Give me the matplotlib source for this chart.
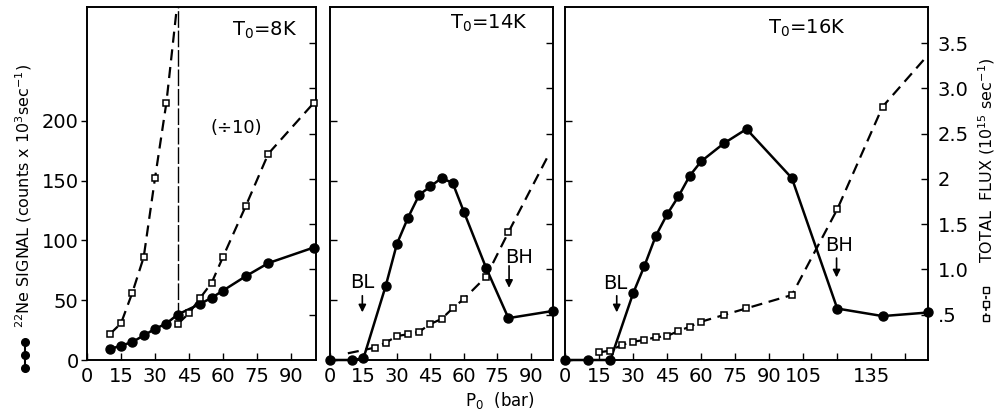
import matplotlib
matplotlib.use("Agg")
import matplotlib.pyplot as plt
from matplotlib.lines import Line2D

plt.rcParams['font.family'] = ['DejaVu Sans']
plt.rcParams['mathtext.default'] = 'regular'

# 22Ne signal (counts x 10^3 / s), filled circles, solid line
p_8k = [10, 15, 20, 25, 30, 35, 40, 50, 55, 60, 70, 80, 100]
ne_8k = [9, 12, 15, 20.5, 26, 30.5, 38, 47, 52, 58, 70, 81, 94]

p_14k = [0, 10, 15, 25, 30, 35, 40, 45, 50, 55, 60, 70, 80, 100]
ne_14k = [0, 0, 1.4, 62, 97, 119, 138, 145, 152, 148, 124, 77, 35, 41]

p_16k = [0, 10, 20, 30, 35, 40, 45, 50, 55, 60, 70, 80, 100, 120, 140, 160]
ne_16k = [0, 0, 0, 55.6, 78.6, 103.6, 121.7, 136.7, 154, 166, 181, 193, 152, 43, 36.7, 39.7]

# total flux (10^15 / s), open squares, dashed line
fp_8k = [10, 15, 20, 25, 30, 35, 40, 45, 50, 55, 60, 70, 80, 100]
flux_8k = [0.284, 0.405, 0.744, 1.135, 2.01, 2.84, 3.98, 5.16, 6.88, 8.54, 11.4, 17.0, 22.8, 28.4]
split_8k = 40  # from here on plotted divided by 10

fp_14k = [20, 25, 30, 35, 40, 45, 50, 55, 60, 70, 80]
flux_14k = [0.136, 0.191, 0.265, 0.284, 0.313, 0.398, 0.453, 0.571, 0.674, 0.920, 1.411]
head_14k = (8, 0.074)
tail_14k = (98, 2.265)

fp_16k = [15, 20, 25, 30, 35, 40, 45, 50, 55, 60, 70, 80, 100, 120, 140]
flux_16k = [0.085, 0.103, 0.166, 0.202, 0.221, 0.251, 0.265, 0.320, 0.368, 0.423,
            0.497, 0.571, 0.718, 1.665, 2.799]
tail_16k = (160, 3.37)

sig_ticks = [0, 50, 100, 150, 200]
flux_ticks = [0.5, 1.0, 1.5, 2.0, 2.5, 3.0, 3.5]
flux_labels = ['.5', '1.0', '1.5', '2', '2.5', '3.0', '3.5']

FS = 14
SIG_TOP = 295
FLUX_TOP = 3.9

fig = plt.figure(figsize=(9.98, 4.19), dpi=100)
W, H = 998.0, 419.0


def panel(x0, x1, xmax):
    ax = fig.add_axes([x0 / W, 59 / H, (x1 - x0) / W, 353 / H])
    ax.set_xlim(0, xmax)
    ax.set_ylim(0, SIG_TOP)
    axr = ax.twinx()
    axr.set_ylim(0, FLUX_TOP)
    for a in (ax, axr):
        for s in a.spines.values():
            s.set_linewidth(1.2)
    ax.tick_params(axis='x', direction='in', length=5, width=1, pad=5, labelsize=FS)
    ax.tick_params(axis='y', direction='in', length=5, width=1, labelleft=False)
    axr.tick_params(axis='y', direction='in', length=5, width=1, labelright=False)
    ax.set_yticks(sig_ticks)
    axr.set_yticks(flux_ticks)
    return ax, axr


def circles(ax, x, y):
    ax.plot(x, y, '-', color='k', lw=1.8, marker='o', ms=6.5, mfc='k', mec='k', clip_on=False, zorder=4)


def squares(ax, x, y, lx, ly):
    ax.plot(lx, ly, color='k', lw=1.6, dashes=(5, 3), clip_on=True, zorder=3)
    ax.plot(x, y, 's', ms=5, mfc='white', mec='k', mew=1.1, clip_on=False, zorder=3)


# ---- T0 = 8K ----
ax1, ax1r = panel(87, 316, 101)
ax1.tick_params(axis='y', direction='out', length=4, labelleft=True, labelsize=FS, pad=2)
ax1.set_xticks([0, 15, 30, 45, 60, 75, 90])
circles(ax1, p_8k, ne_8k)
low_x = [p for p in fp_8k if p <= split_8k]
low_y = [f for p, f in zip(fp_8k, flux_8k) if p <= split_8k]
high_x = [p for p in fp_8k if p >= split_8k]
high_y = [f / 10 for p, f in zip(fp_8k, flux_8k) if p >= split_8k]
squares(ax1r, low_x[:-1], low_y[:-1], low_x, low_y)
squares(ax1r, high_x, high_y, high_x, high_y)
ax1.plot([split_8k, split_8k], [34, SIG_TOP], color='k', lw=1.0, dashes=(12, 2), zorder=2)
ax1.text(0.777, 0.935, 'T$_0$=8K', transform=ax1.transAxes, ha='center', va='center', fontsize=FS)
ax1.text(0.654, 0.656, '(÷10)', transform=ax1.transAxes, ha='center', va='center', fontsize=FS - 1)

# ---- T0 = 14K ----
ax2, ax2r = panel(330, 553, 100)
ax2.set_xticks([0, 15, 30, 45, 60, 75, 90])
circles(ax2, p_14k, ne_14k)
squares(ax2r, fp_14k, flux_14k,
        [head_14k[0]] + fp_14k + [tail_14k[0]], [head_14k[1]] + flux_14k + [tail_14k[1]])
ax2.text(0.71, 0.954, 'T$_0$=14K', transform=ax2.transAxes, ha='center', va='center', fontsize=FS)

# ---- T0 = 16K ----
ax3, ax3r = panel(565, 928, 160)
ax3.set_xticks(range(0, 151, 15))
ax3.set_xticklabels(['0', '15', '30', '45', '60', '75', '90', '105', '', '135', ''])
ax3r.tick_params(axis='y', labelright=True, labelsize=FS, pad=7)
ax3r.set_yticklabels(flux_labels)
circles(ax3, p_16k, ne_16k)
squares(ax3r, fp_16k, flux_16k, fp_16k + [tail_16k[0]], flux_16k + [tail_16k[1]])
ax3.text(0.666, 0.94, 'T$_0$=16K', transform=ax3.transAxes, ha='center', va='center', fontsize=FS)


def arrow(ax, label, x, y0, y1, tx, ty):
    ax.annotate('', xy=(x, y1), xytext=(x, y0),
                arrowprops=dict(arrowstyle='-|>', color='k', lw=1.2, mutation_scale=11))
    ax.text(tx, ty, label, ha='center', va='center', fontsize=FS)


arrow(ax2, 'BL', 14.5, 56, 37.5, 14.3, 65)
arrow(ax2, 'BH', 80.3, 81, 58, 84.8, 86)
arrow(ax3, 'BL', 22.8, 56, 37.5, 22.0, 64)
arrow(ax3, 'BH', 119.7, 87.5, 66.7, 121.0, 96)

# axis titles
fig.text(500 / W, 1 - 400 / H, 'P$_0$  (bar)', ha='center', va='center', fontsize=12)
fig.text(24 / W, 1 - 196 / H, '$^{22}$Ne SIGNAL (counts x 10$^3$sec$^{-1}$)',
         rotation=90, ha='center', va='center', fontsize=11.5)
fig.text(987 / W, 1 - 160 / H, 'TOTAL  FLUX (10$^{15}$ sec$^{-1}$)',
         rotation=90, ha='center', va='center', fontsize=11.5)

# legend keys beside the axis titles
fig.add_artist(Line2D([25 / W] * 3, [1 - 342 / H, 1 - 355 / H, 1 - 368 / H], color='k', lw=1.5,
                      marker='o', ms=5.5, mfc='k', mec='k'))
fig.add_artist(Line2D([986 / W] * 3, [1 - 290 / H, 1 - 304 / H, 1 - 318 / H], color='k', lw=1.2,
                      dashes=(2, 1.5), marker='s', ms=4.5, mfc='white', mec='k', mew=1))

fig.savefig('out.png', dpi=100)
